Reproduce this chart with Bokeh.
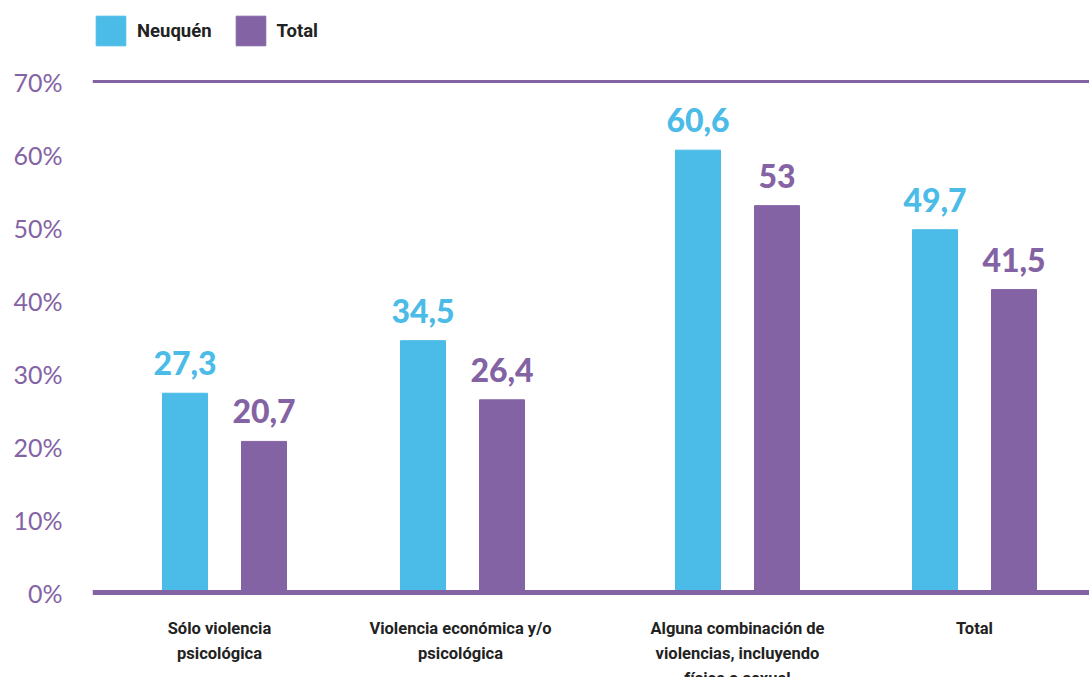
from bokeh.plotting import figure
from bokeh.models import Range1d, FixedTicker, Span, Legend, LegendItem, ColumnDataSource
from bokeh.core.properties import value
from bokeh.embed import file_html
from bokeh.resources import INLINE

# ---- data ----
categories = ["Sólo violencia\npsicológica",
              "Violencia económica y/o\npsicológica",
              "Alguna combinación de\nviolencias, incluyendo\nfísica o sexual",
              "Total"]
neuquen = [27.3, 34.5, 60.6, 49.7]
total = [20.7, 26.4, 53.0, 41.5]
series_names = ["Neuquén", "Total"]
y_ticks = [0, 10, 20, 30, 40, 50, 60, 70]

# ---- style / layout ----
BLUE = "#4BBBE7"
PURPLE = "#8463A5"
DARK = "#222222"
group_x = [132, 370, 645, 882]   # layout positions (frame px units)
label_shift = [-5, -2, 0, 0]     # small horizontal nudges of category labels
bar_w = 45
off = 39.5

def fmt(v):
    s = ("%.1f" % v).rstrip("0").rstrip(".")
    return s.replace(".", ",")

p = figure(width=1089, height=677, output_backend="svg", toolbar_location=None,
           x_range=Range1d(0, 997), y_range=Range1d(-11.64, 81.1),
           min_border_left=92, min_border_right=0, min_border_top=0, min_border_bottom=0)
p.outline_line_color = None
p.grid.visible = False
p.background_fill_color = "white"
p.xaxis.visible = False

src_n = ColumnDataSource(dict(x=[g - off for g in group_x], top=neuquen,
                              lab=[fmt(v) for v in neuquen]))
src_t = ColumnDataSource(dict(x=[g + off for g in group_x], top=total,
                              lab=[fmt(v) for v in total]))
src_c = ColumnDataSource(dict(x=[g + s for g, s in zip(group_x, label_shift)],
                              y=[0] * len(group_x), lab=categories))

r_n = p.vbar(x="x", top="top", bottom=0, width=bar_w, color=BLUE, source=src_n)
r_t = p.vbar(x="x", top="top", bottom=0, width=bar_w, color=PURPLE, source=src_t)

for src, col in ((src_n, BLUE), (src_t, PURPLE)):
    p.text(x="x", y="top", text="lab", source=src, text_align="center",
           text_baseline="alphabetic", y_offset=-30, text_color=col,
           text_font=value("'Lato Black', Lato"), text_font_style="bold",
           text_font_size="32px")

# category labels below the baseline
p.text(x="x", y="y", text="lab", source=src_c, text_align="center",
       text_baseline="top", y_offset=26, text_color=DARK,
       text_font=value("Roboto"), text_font_style="bold", text_font_size="16.5px",
       text_line_height=1.33)

p.add_layout(Span(location=70, dimension="width", line_color=PURPLE, line_width=3))
p.add_layout(Span(location=0, dimension="width", line_color=PURPLE, line_width=5))

# y axis
p.yaxis.ticker = FixedTicker(ticks=y_ticks)
p.yaxis.major_label_overrides = {t: f"{t}%" for t in y_ticks}
p.yaxis.axis_line_color = None
p.yaxis.major_tick_line_color = None
p.yaxis.minor_tick_line_color = None
p.yaxis.major_label_standoff = 24
p.yaxis.major_label_text_font = "Lato"
p.yaxis.major_label_text_font_size = "25px"
p.yaxis.major_label_text_color = PURPLE

legend = Legend(items=[LegendItem(label=series_names[0], renderers=[r_n]),
                       LegendItem(label=series_names[1], renderers=[r_t])],
                orientation="horizontal", location=(0, 628),
                glyph_width=37, glyph_height=37, label_standoff=8, spacing=20,
                padding=0, margin=0, border_line_color=None, background_fill_alpha=0,
                label_text_font="Roboto", label_text_font_style="bold",
                label_text_font_size="18.5px", label_text_color=DARK,
                label_text_baseline="middle")
p.add_layout(legend)

open("out.html", "w").write(file_html(p, INLINE))
